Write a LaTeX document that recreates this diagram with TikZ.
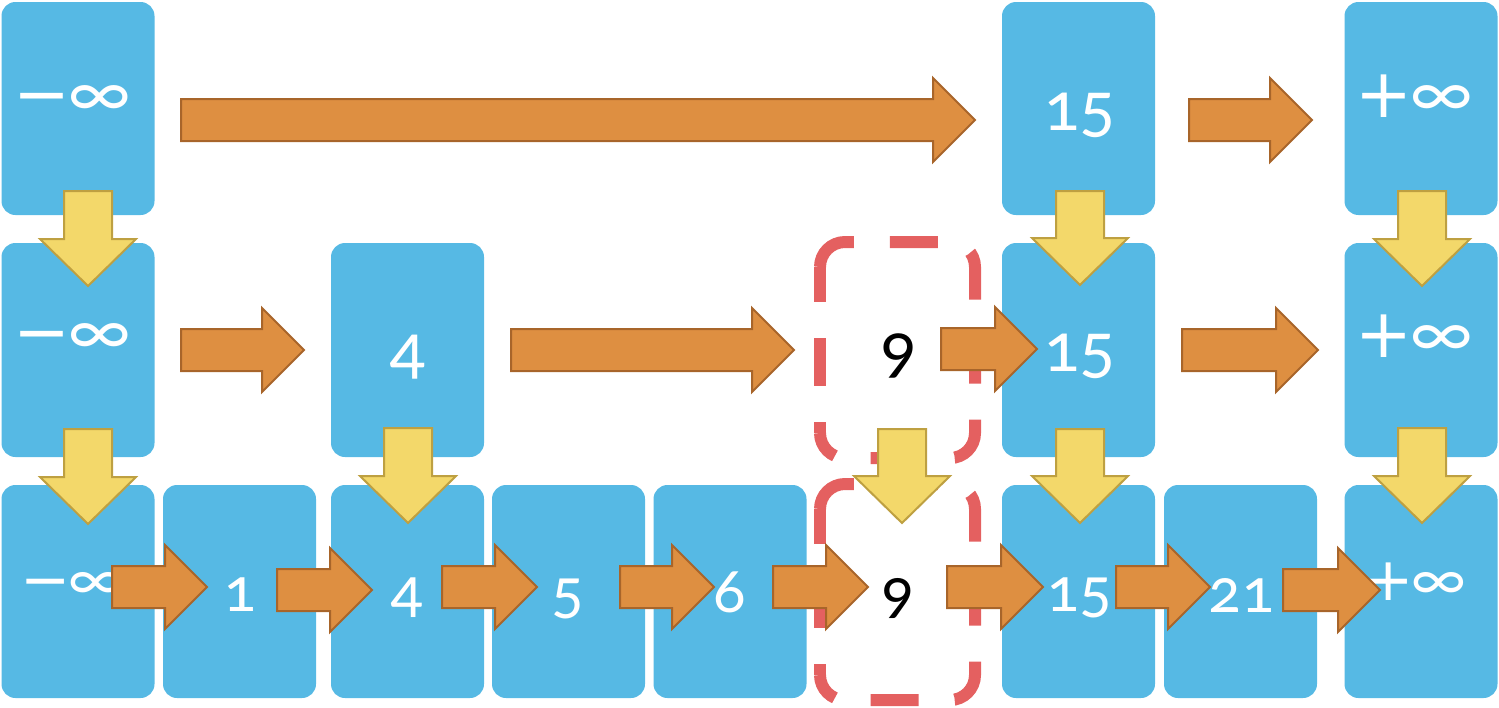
\documentclass[tikz,border=0pt]{standalone}
\usepackage{fontspec}
\setmainfont{Carlito}[Numbers=OldStyle]
\newfontfamily\inffont{DejaVu Sans}
\newfontfamily\carl{Carlito}
\definecolor{boxblue}{RGB}{86,185,228}
\definecolor{ofill}{RGB}{222,143,65}
\definecolor{oline}{RGB}{168,101,42}
\definecolor{yfill}{RGB}{243,216,106}
\definecolor{yline}{RGB}{190,160,65}
\definecolor{dred}{RGB}{228,96,96}
\newcommand{\rarr}[3]{%
  \draw[oarr] (#1,#3-21) -- (#2-42,#3-21) -- (#2-42,#3-42) -- (#2,#3) -- (#2-42,#3+42) -- (#2-42,#3+21) -- (#1,#3+21) -- cycle;}
\newcommand{\darr}[3]{%
  \draw[yarr] (#1-24,#2) -- (#1+24,#2) -- (#1+24,#3-47) -- (#1+48,#3-47) -- (#1,#3) -- (#1-48,#3-47) -- (#1-24,#3-47) -- cycle;}
\newcommand{\dbox}[2]{%
  \draw[dbord] (820,#1+25) -- (820,#1) -- (975,#1) -- (975,#2) -- (820,#2) -- (820,#2-25);
  \draw[dbord, dash phase=13pt] (820,#1+25) -- (820,#2-25);}
\newcommand{\infbigsym}{\kern-2pt{\carl\fontsize{73}{80}\selectfont ∞}}
\newcommand{\infsmallsym}{\kern-2pt{\carl\fontsize{64}{72}\selectfont ∞}}
\begin{document}
\begin{tikzpicture}[x=1pt,y=-1pt,
  bbox/.style={fill=boxblue, rounded corners=14pt, inner sep=0pt, minimum width=153pt},
  r1/.style={minimum height=213pt},
  r2/.style={minimum height=214pt},
  r3/.style={minimum height=213pt},
  big/.style={font=\fontsize{71}{80}\selectfont, text=white, anchor=base, inner sep=0pt},
  small/.style={font=\fontsize{64}{72}\selectfont, text=white, anchor=base, inner sep=0pt},
  infbig/.style={font=\inffont\fontsize{68}{80}\selectfont, text=white, anchor=base, inner sep=0pt},
  infsmall/.style={font=\inffont\fontsize{60}{72}\selectfont, text=white, anchor=base, inner sep=0pt},
  oarr/.style={fill=ofill, draw=oline, line width=2pt, line join=miter},
  yarr/.style={fill=yfill, draw=yline, line width=2pt, line join=miter},
  dbord/.style={draw=dred, line width=12pt, rounded corners=25pt, dash pattern=on 48pt off 36pt}]
\useasboundingbox (0,0) rectangle (1499,707);
% boxes
\node[bbox,r1] (a1) at (78,108.5) {};
\node[bbox,r1] (a7) at (1078.5,108.5) {};
\node[bbox,r1] (a9) at (1421,108.5) {};
\node[bbox,r2] (b1) at (78,350) {};
\node[bbox,r2] (b3) at (407.5,350) {};
\node[bbox,r2] (b7) at (1078.5,350) {};
\node[bbox,r2] (b9) at (1421,350) {};
\node[bbox,r3] (c1) at (78,591.5) {};
\node[bbox,r3] (c2) at (239.5,591.5) {};
\node[bbox,r3] (c3) at (407.5,591.5) {};
\node[bbox,r3] (c4) at (568.5,591.5) {};
\node[bbox,r3] (c5) at (730,591.5) {};
\node[bbox,r3] (c7) at (1078.5,591.5) {};
\node[bbox,r3] (c8) at (1240.5,591.5) {};
\node[bbox,r3] (c9) at (1421,591.5) {};
% texts
\node[infbig] (ta1) at (72,117) {−\infbigsym};
\node[big] (ta7) at (1079,130) {15};
\node[infbig] (ta9) at (1414,117) {+\infbigsym};
\node[infbig] (tb1) at (72,355) {−\infbigsym};
\node[big] (tb3) at (407,372) {4};
\node[big, text=black] (tb6) at (898,371) {9};
\node[big] (tb7) at (1079,371) {15};
\node[infbig] (tb9) at (1414,357) {+\infbigsym};
\node[infsmall] (tc1) at (72,600) {−\infsmallsym};
\node[small] (tc2) at (240,611) {1};
\node[small] (tc3) at (407,611) {4};
\node[small] (tc4) at (568,612) {5};
\node[small] (tc5) at (730,612) {6};
\node[small, text=black] (tc6) at (898,612) {9};
\node[small] (tc7) at (1079,611) {15};
\node[small] (tc8) at (1241,612) {21};
\node[infsmall] (tc9) at (1415,600) {+\infsmallsym};
% dashed boxes
\dbox{242}{458}
\dbox{484}{700}
% down arrows
\darr{88}{191}{286}
\darr{88}{429}{524}
\darr{408}{428}{523}
\darr{902}{429}{523}
\darr{1080}{191}{285}
\darr{1080}{429}{523}
\darr{1422}{191}{286}
\darr{1422}{428}{523}
% right arrows
\rarr{181}{975}{120}
\rarr{1189}{1312}{120}
\rarr{181}{304}{350}
\rarr{511}{794}{350}
\rarr{941}{1037}{349}
\rarr{1182}{1318}{350}
\rarr{112}{207}{587}
\rarr{277}{372}{590}
\rarr{442}{537}{587}
\rarr{620}{714}{587}
\rarr{773}{868}{587}
\rarr{947}{1043}{587}
\rarr{1116}{1210}{587}
\rarr{1283}{1380}{590}
\end{tikzpicture}
\end{document}
